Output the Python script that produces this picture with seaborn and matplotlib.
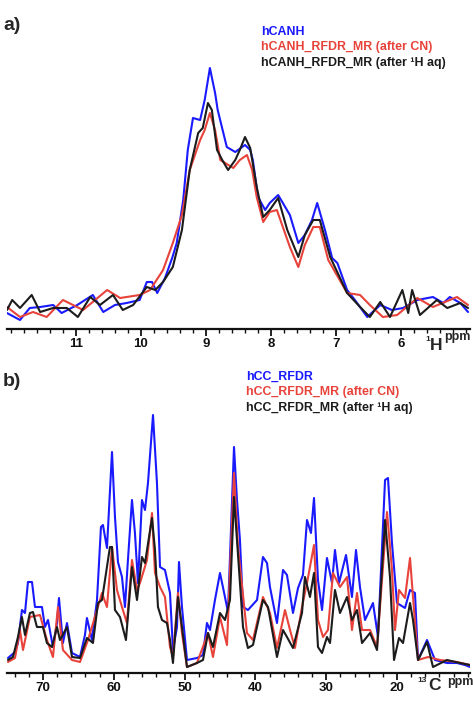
import numpy as np
import pandas as pd
import matplotlib
matplotlib.use("Agg")
import matplotlib.pyplot as plt
from matplotlib.ticker import MultipleLocator
import seaborn as sns

# ---- panel a: 1H spectra (ppm, intensity a.u.) ----
a_blue_ppm = [12.09, 11.86, 11.71, 11.55, 11.35, 11.22, 10.98, 10.74, 10.58, 10.40, 10.22, 10.02, 9.91, 9.83,
              9.75, 9.63, 9.52, 9.45, 9.35, 9.28, 9.20, 9.09, 9.02, 8.94, 8.86, 8.82, 8.68, 8.55, 8.40, 8.32,
              8.28, 8.20, 8.09, 8.02, 7.89, 7.71, 7.58, 7.48, 7.37, 7.29, 7.17, 7.06, 6.98, 6.83, 6.71, 6.52,
              6.32, 6.14, 5.97, 5.75, 5.51, 5.35, 5.25, 5.09, 4.97]
a_blue_int = [0, -8, 4, 5, 7, -1, 7, 17, 0, 7, 9, 12, 30, 30,
              19, 34, 54, 69, 112, 162, 194, 192, 212, 244, 219, 202, 165, 160, 167, 162,
              152, 115, 102, 109, 117, 97, 69, 77, 92, 109, 82, 54, 49, 22, 12, -5,
              7, 2, 4, 12, 15, 9, 15, 9, 0]

a_red_ppm = [12.06, 11.86, 11.66, 11.45, 11.20, 10.89, 10.52, 10.32, 10.02, 9.86, 9.66, 9.51, 9.37, 9.25,
             9.09, 9.02, 8.94, 8.86, 8.78, 8.58, 8.48, 8.37, 8.29, 8.22, 8.12, 8.02, 7.91, 7.71, 7.58,
             7.48, 7.35, 7.25, 7.12, 6.83, 6.63, 6.48, 6.28, 6.06, 5.75, 5.51, 5.14, 4.97]
a_red_int = [5, -5, 0, -5, 12, 2, 22, 14, 17, 22, 42, 69, 97, 142,
             172, 182, 199, 182, 152, 144, 152, 157, 142, 115, 90, 100, 102, 65, 45,
             67, 85, 85, 52, 19, 17, 7, -5, -3, 14, 5, 15, 7]

a_black_ppm = [12.06, 11.98, 11.86, 11.68, 11.55, 11.35, 11.14, 10.97, 10.78, 10.63, 10.43, 10.28, 10.12,
               9.91, 9.78, 9.66, 9.51, 9.37, 9.25, 9.12, 9.05, 8.97, 8.91, 8.83, 8.75, 8.66, 8.55, 8.48,
               8.40, 8.32, 8.22, 8.12, 8.02, 7.89, 7.75, 7.58, 7.48, 7.35, 7.25, 7.09, 6.83, 6.63, 6.48,
               6.32, 6.17, 5.98, 5.89, 5.83, 5.71, 5.45, 5.29, 5.09, 4.97]
a_black_int = [2, 12, 4, 17, 0, 4, 4, -5, 15, 7, 17, 2, 7,
               25, 22, 30, 45, 82, 142, 179, 184, 209, 202, 162, 152, 142, 152, 162,
               175, 164, 125, 95, 102, 114, 82, 55, 77, 92, 92, 55, 19, 5, -5,
               10, -5, 22, -1, 22, -3, 12, 4, 9, 4]

# ---- panel b: 13C spectra (ppm, intensity a.u.) ----
b_blue_ppm = [74.94, 73.95, 73.53, 72.97, 72.54, 72.12, 71.55, 71.13, 70.14, 69.72, 69.29, 68.59, 68.02,
              67.74, 67.18, 66.61, 65.90, 64.77, 64.07, 63.79, 63.08, 62.37, 61.81, 61.53, 60.96, 60.25,
              59.83, 59.41, 58.84, 58.42, 58.00, 57.43, 57.01, 56.58, 56.02, 55.59, 55.17, 54.46, 53.90,
              53.47, 52.77, 52.06, 51.64, 51.07, 50.79, 50.37, 49.66, 48.25, 47.40, 46.84, 46.41, 45.71,
              45.00, 44.44, 43.87, 43.02, 42.60, 42.18, 41.75, 41.05, 39.77, 38.93, 38.36, 37.94, 36.95,
              36.10, 35.54, 34.69, 33.98, 33.28, 32.71, 32.15, 31.72, 31.16, 30.59, 29.89, 29.18, 28.76,
              28.19, 27.20, 26.36, 25.79, 25.23, 24.52, 23.39, 22.68, 21.69, 21.27, 20.71, 20.00, 18.87,
              18.16, 17.46, 17.03, 15.76, 14.63, 12.94, 11.53, 10.40, 9.69]
b_blue_int = [12, 18, 27, 60, 57, 88, 88, 63, 63, 43, 50, 23, 47,
              72, 27, 47, 17, 13, 35, 52, 30, 70, 143, 145, 122, 218,
              153, 108, 93, 63, 110, 170, 137, 87, 170, 160, 187, 255, 187,
              103, 100, 77, 20, 43, 108, 63, 10, 12, 15, 47, 40, 70,
              97, 78, 58, 223, 170, 130, 63, 60, 70, 113, 107, 83, 47,
              100, 95, 57, 82, 95, 150, 137, 172, 90, 60, 112, 87, 120,
              87, 115, 73, 120, 83, 50, 67, 33, 190, 192, 127, 67, 62,
              80, 77, 10, 30, 10, 7, 7, 5, 3]

b_red_ppm = [74.94, 73.95, 73.25, 72.82, 71.84, 70.42, 69.44, 68.59, 67.88, 67.18, 65.90, 64.77, 63.64,
             61.95, 61.67, 60.96, 60.25, 59.55, 58.84, 58.14, 57.43, 56.72, 56.30, 55.31, 54.60, 54.18,
             53.47, 52.77, 52.06, 51.64, 50.93, 50.37, 49.66, 48.25, 46.69, 45.99, 45.00, 44.01, 43.02,
             42.46, 41.19, 40.34, 38.93, 37.94, 36.95, 35.82, 35.11, 34.41, 33.42, 32.71, 31.72, 31.16,
             30.45, 29.75, 29.04, 28.05, 27.06, 26.36, 25.65, 24.94, 23.81, 22.82, 21.41, 20.71, 20.28,
             19.72, 18.87, 18.16, 17.74, 17.03, 15.62, 13.93, 11.53, 9.69]
b_red_int = [8, 12, 40, 20, 53, 55, 30, 13, 63, 20, 10, 8, 30,
             70, 77, 63, 123, 80, 63, 47, 110, 80, 87, 110, 157, 97,
             83, 73, 23, 13, 77, 37, 3, 7, 37, 13, 53, 25, 197,
             123, 37, 30, 73, 57, 22, 60, 40, 22, 63, 87, 125, 50,
             33, 40, 97, 83, 93, 40, 77, 40, 40, 23, 158, 100, 40,
             80, 72, 112, 73, 10, 13, 10, 8, 5]

b_black_ppm = [74.94, 74.24, 73.53, 72.97, 72.54, 71.84, 71.41, 70.85, 70.00, 69.44, 68.73, 68.02, 67.60,
               66.61, 65.90, 64.77, 63.79, 62.94, 62.23, 61.67, 61.24, 60.54, 60.25, 59.83, 59.12, 58.28,
               57.43, 56.72, 56.02, 55.59, 54.60, 54.18, 53.76, 53.19, 52.49, 52.06, 51.64, 50.93, 50.37,
               49.66, 48.25, 47.40, 46.69, 45.99, 45.00, 44.29, 43.59, 43.02, 42.60, 41.75, 41.05, 40.34,
               38.93, 38.22, 36.95, 36.10, 35.54, 34.69, 33.42, 33.00, 32.29, 31.72, 31.16, 30.59, 29.89,
               29.46, 28.76, 28.05, 27.06, 26.36, 25.65, 24.94, 23.81, 22.82, 21.69, 20.99, 20.42, 19.72,
               19.15, 18.16, 17.74, 17.03, 15.76, 14.92, 12.94, 11.10, 9.69]
b_black_int = [10, 13, 33, 53, 35, 57, 58, 43, 43, 27, 23, 43, 30,
               43, 13, 12, 32, 27, 67, 70, 90, 123, 123, 60, 53, 30,
               103, 70, 113, 107, 152, 120, 63, 50, 47, 30, 7, 73, 43,
               3, 7, 10, 37, 23, 57, 50, 70, 173, 130, 43, 22, 25,
               70, 63, 13, 40, 33, 22, 57, 93, 73, 97, 23, 17, 33,
               27, 80, 57, 73, 50, 60, 27, 37, 20, 150, 93, 10, 32,
               27, 67, 50, 10, 28, 3, 10, 7, 5]

series_a = ["hCANH", "hCANH_RFDR_MR (after CN)", "hCANH_RFDR_MR (after \u00b9H aq)"]
series_b = ["hCC_RFDR", "hCC_RFDR_MR (after CN)", "hCC_RFDR_MR (after \u00b9H aq)"]
colors = ["#1a1aff", "#e8433b", "#1c1c1c"]


def make_df(names, ppms, ints):
    parts = [pd.DataFrame({"ppm": p, "intensity": i, "series": n}) for n, p, i in zip(names, ppms, ints)]
    return pd.concat(parts, ignore_index=True)


df_a = make_df(series_a, [a_blue_ppm, a_red_ppm, a_black_ppm], [a_blue_int, a_red_int, a_black_int])
df_b = make_df(series_b, [b_blue_ppm, b_red_ppm, b_black_ppm], [b_blue_int, b_red_int, b_black_int])

sns.set_style("white")
plt.rcParams["font.family"] = ["Liberation Sans", "DejaVu Sans"]

W, H = 473, 701
fig = plt.figure(figsize=(W / 100, H / 100), dpi=100)


def px(x, y):
    return x / W, 1 - y / H


def draw_panel(rect, df, names, xlim, ylim, ticks, minor):
    ax = fig.add_axes(rect)
    sns.lineplot(data=df, x="ppm", y="intensity", hue="series", hue_order=names,
                 palette=colors, estimator=None, legend=False, linewidth=1.5, ax=ax)
    for ln in ax.lines:
        ln.set_solid_joinstyle("round")
    ax.set_xlim(*xlim)
    ax.set_ylim(*ylim)
    for s in ["top", "left", "right"]:
        ax.spines[s].set_visible(False)
    ax.spines["bottom"].set_linewidth(1.6)
    ax.spines["bottom"].set_color("#111111")
    ax.set_yticks([])
    ax.set_xlabel("")
    ax.set_ylabel("")
    ax.set_xticks(ticks)
    ax.xaxis.set_minor_locator(MultipleLocator(minor))
    ax.tick_params(axis="x", which="major", direction="out", length=5, width=1.3,
                   labelsize=9.5, pad=1.5, bottom=True, colors="#111111")
    ax.tick_params(axis="x", which="minor", direction="out", length=3, width=1.0,
                   bottom=True, color="#111111")
    for lab in ax.get_xticklabels():
        lab.set_fontweight("bold")
    return ax


# panel a
ax_a = draw_panel([7 / W, (H - 329) / H, 463 / W, 289 / H], df_a, series_a,
                  (12.06, 4.94), (-17, 272), [11, 10, 9, 8, 7, 6], 0.2)
# panel b
ax_b = draw_panel([7 / W, (H - 673) / H, 463 / W, 273 / H], df_b, series_b,
                  (75.08, 9.69), (-3, 270), [70, 60, 50, 40, 30, 20], 2)

# panel letters
fig.text(*px(3, 25), "a)", fontsize=14, fontweight="bold", va="center", ha="left")
fig.text(*px(3, 381), "b)", fontsize=14, fontweight="bold", va="center", ha="left")

# legends as coloured text
for i, (name, c) in enumerate(zip(series_a, colors)):
    fig.text(*px(261, 32 + i * 15.3), name, color=c, fontsize=8.9, fontweight="bold", va="center")
for i, (name, c) in enumerate(zip(series_b, colors)):
    fig.text(*px(246, 377 + i * 15.5), name, color=c, fontsize=8.9, fontweight="bold", va="center")

# nucleus / ppm labels
fig.text(*px(425, 339), "1", fontsize=6, fontweight="bold", va="center", ha="left")
fig.text(*px(430, 345), "H", fontsize=12.5, fontweight="bold", va="center", ha="left")
fig.text(*px(444, 337), "ppm", fontsize=9, fontweight="bold", va="center", ha="left")
fig.text(*px(417, 680), "13", fontsize=6, fontweight="bold", va="center", ha="left")
fig.text(*px(428, 686), "C", fontsize=12.5, fontweight="bold", va="center", ha="left")
fig.text(*px(447, 682), "ppm", fontsize=9, fontweight="bold", va="center", ha="left")

fig.savefig("out.png", dpi=100)
